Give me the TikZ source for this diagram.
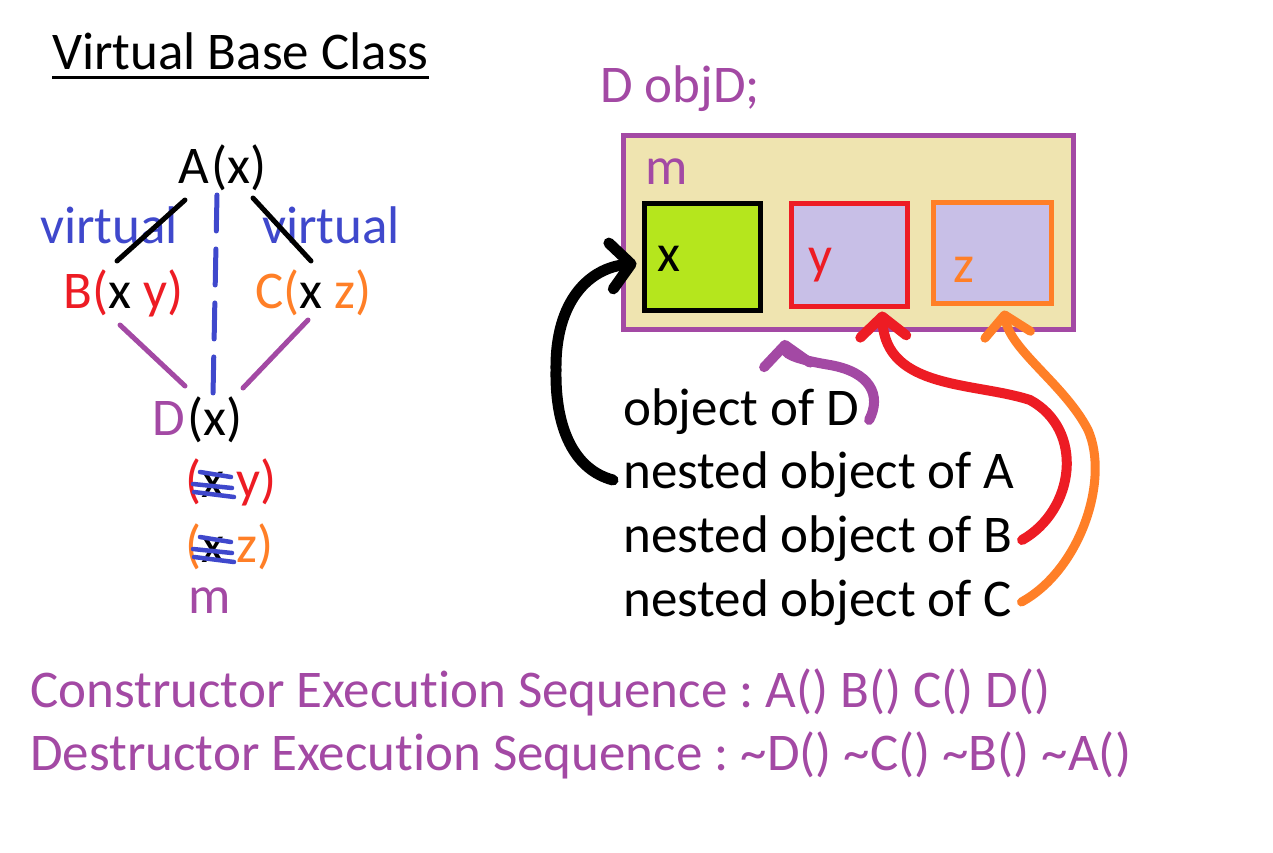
\documentclass[tikz,border=0pt]{standalone}
\usepackage{fontspec}
\setmainfont{Carlito}[Ligatures=NoCommon]
\usetikzlibrary{positioning,arrows.meta}
\definecolor{vpurple}{HTML}{A349A4}
\definecolor{vred}{HTML}{ED1C24}
\definecolor{vorange}{HTML}{FF7F27}
\definecolor{vblue}{HTML}{3F48CC}
\definecolor{vgreen}{HTML}{B5E61D}
\definecolor{vlav}{HTML}{C8BFE7}
\definecolor{vbeige}{HTML}{EFE4B0}
\frenchspacing

\begin{document}
\begin{tikzpicture}[x=1pt, y=-1pt,
  txt/.style={anchor=base west, inner sep=0pt, font=\fontsize{53}{63}\selectfont},
  cell/.style={draw, line width=5pt, fill=vlav, inner sep=0pt},
  edge/.style={line width=5pt, line cap=round},
  hand/.style={line width=10pt, line cap=round, -{Straight Barb[length=20pt,width=46pt,round]}},
  strike/.style={draw=vblue, line width=4.5pt, line cap=round}]
\useasboundingbox[fill=white] (0,0) rectangle (1273,853);
% left: the class diagram
\node[txt] (ttl) at (52,70) {Virtual Base Class};
\draw[line width=3pt] ([yshift=-8pt]ttl.base west) -- ([yshift=-8pt]ttl.base east);
\node[txt] (A) at (178,183) {A\kern3pt(x)};
\node[txt, vblue] (vl) at (40,243) {virtual};
\node[txt, vblue] (vr) at (262,243) {virtual};
\node[txt, vred] (B) at (63,308) {B(\textcolor{black}{x} y)};
\node[txt, vorange] (C) at (255,308) {C(\textcolor{black}{x} z)};
\node[txt] (D) at (152,435) {\textcolor{vpurple}{D}\kern3pt(x)};
\node[txt, vred] (dy) at (185,497) {(\textcolor{black}{x} y)};
\node[txt, vorange] (dz) at (185,562) {(\textcolor{black}{x} z)};
\node[txt, vpurple] (dm) at (188,613) {m};
\draw[edge] ([xshift=7pt,yshift=-17pt]A.base west) -- ([xshift=54pt,yshift=47pt]B.base west);
\draw[edge] ([xshift=75pt,yshift=-15pt]A.base west) -- ([xshift=56pt,yshift=47pt]C.base west);
\draw[edge, vblue, dash pattern=on 36pt off 18pt] ([xshift=39pt,yshift=-12pt]A.base west) -- ([xshift=61pt,yshift=40pt]D.base west);
\draw[edge, vpurple] ([xshift=57pt,yshift=-17pt]B.base west) -- ([xshift=33pt,yshift=49pt]D.base west);
\draw[edge, vpurple] ([xshift=53pt,yshift=-12pt]C.base west) -- ([xshift=91pt,yshift=47pt]D.base west);
\foreach \n in {dy,dz} {
  \begin{scope}[shift={(\n.base west)}]
    \draw[strike] (15,-25) -- (46,-20);
    \draw[strike] (8,-13) -- (47,-9);
    \draw[strike] (9,-5) -- (49,0);
  \end{scope}
}
% right: the object layout
\node[txt, vpurple] (decl) at (600,103) {D objD;};
\node[draw=vpurple, line width=5pt, fill=vbeige, minimum width=450pt, minimum height=194pt] (obj) at (848.5,232.5) {};
\node[txt, vpurple] (om) at (645,185) {m};
\node[cell, fill=vgreen, draw=black, minimum width=116pt, minimum height=107pt] (bx) at (702,256.5) {};
\node[cell, draw=vred, minimum width=116pt, minimum height=103pt] (by) at (849,254.5) {};
\node[cell, draw=vorange, minimum width=118pt, minimum height=101pt] (bz) at (992,252.5) {};
\node[txt] (tx) at (657,271) {x};
\node[txt, vred] (ty) at (808,273) {y};
\node[txt, vorange] (tz) at (953,282) {z};
\node[txt] (lD) at (623,425) {object of D};
\node[txt] (lA) at (623,488) {nested object of A};
\node[txt] (lB) at (623,552) {nested object of B};
\node[txt] (lC) at (623,616) {nested object of C};
\draw[hand, line width=11pt] ([xshift=-10pt,yshift=8pt]lA.base west) .. controls (575,470) and (555,430) .. (556,370)
  .. controls (555,300) and (590,268) .. ([xshift=-5pt,yshift=-7pt]bx.west);
\draw[hand, vpurple] ([xshift=10pt,yshift=5pt]lD.base east) .. controls (882,395) and (870,372) .. (830,365)
  .. controls (800,360) and (786,355) .. ([xshift=-64pt,yshift=-8pt]obj.south);
\draw[hand, vred] ([xshift=9pt,yshift=12pt]lB.base east) .. controls (1075,510) and (1085,430) .. (1030,400)
  .. controls (975,382) and (886,390) .. ([xshift=33pt,yshift=-3pt]by.south);
\draw[hand, vorange, line width=9pt] ([xshift=9pt,yshift=14pt]lC.base east) .. controls (1080,570) and (1110,480) .. (1088,430)
  .. controls (1065,385) and (1010,350) .. ([xshift=12pt,yshift=-5pt]bz.south);
% the sequences
\node[txt, vpurple] (ctor) at (30,707) {Constructor Execution Sequence : A() B() C() D()};
\node[txt, vpurple] (dtor) at (30,770) {Destructor Execution Sequence : \textasciitilde D() \textasciitilde C() \textasciitilde B() \textasciitilde A()};
\end{tikzpicture}
\end{document}
